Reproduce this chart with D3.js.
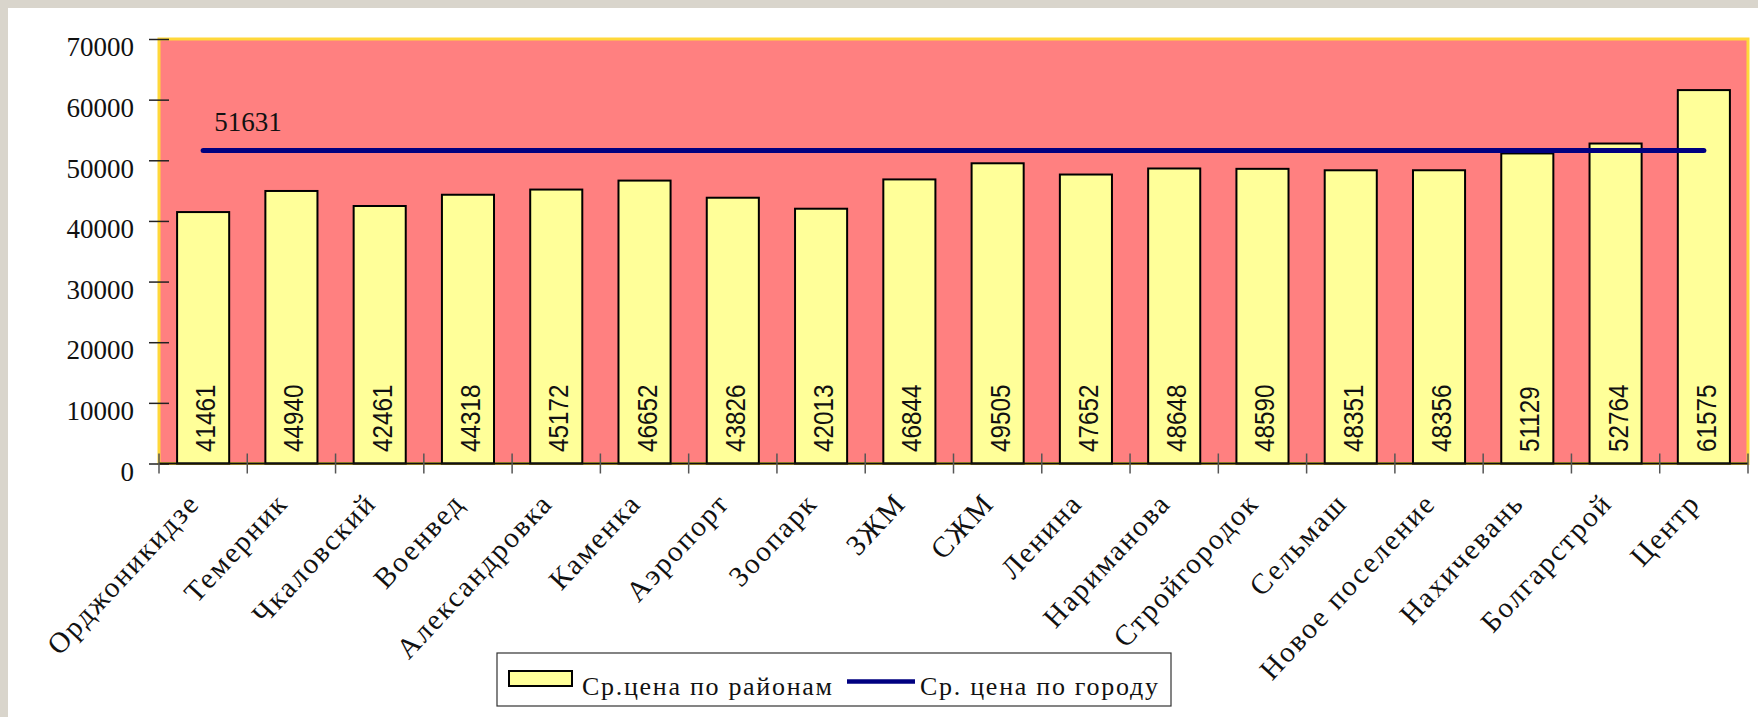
<!DOCTYPE html>
<html>
<head>
<meta charset="utf-8">
<script src="https://cdn.jsdelivr.net/npm/d3@7"></script>
<style>
  body { margin: 0; background: #d9d5cc; }
  svg { display: block; }
</style>
</head>
<body>
<svg id="chart"></svg>
<script>
// Chart data
const districts = ['Орджоникидзе', 'Темерник', 'Чкаловский', 'Военвед', 'Александровка', 'Каменка',
  'Аэропорт', 'Зоопарк', 'ЗЖМ', 'СЖМ', 'Ленина', 'Нариманова', 'Стройгородок', 'Сельмаш',
  'Новое поселение', 'Нахичевань', 'Болгарстрой', 'Центр'];
const districtPrices = [41461, 44940, 42461, 44318, 45172, 46652, 43826, 42013, 46844, 49505,
  47652, 48648, 48590, 48351, 48356, 51129, 52764, 61575];
const cityPrice = 51631;
const cityPrices = districts.map(() => cityPrice);
const yTicks = [0, 10000, 20000, 30000, 40000, 50000, 60000, 70000];
const legendLabels = ['Ср.цена по районам', 'Ср. цена по городу'];

// Set up the chart dimensions
const width = 1758;
const height = 717;
const plot = { left: 159, right: 1748, top: 39, bottom: 463.5 };
const serif = "'Liberation Serif', 'Times New Roman', serif";
const sans = "'Liberation Sans', Arial, sans-serif";

const svg = d3.select('#chart')
  .attr('width', width)
  .attr('height', height);

// Page background and white panel
svg.append('rect')
  .attr('width', width)
  .attr('height', height)
  .attr('fill', '#d9d5cc');
svg.append('rect')
  .attr('x', 8)
  .attr('y', 8)
  .attr('width', width - 8)
  .attr('height', height - 8)
  .attr('fill', '#ffffff');

// Scales
const xScale = d3.scaleBand()
  .domain(districts)
  .range([plot.left, plot.right])
  .paddingInner(0.41)
  .paddingOuter(0.205);

const yScale = d3.scaleLinear()
  .domain([0, 70000])
  .range([plot.bottom, plot.top]);

const center = d => xScale(d) + xScale.bandwidth() / 2;

// Plot area
svg.append('rect')
  .attr('x', plot.left)
  .attr('y', plot.top)
  .attr('width', plot.right - plot.left)
  .attr('height', plot.bottom - plot.top)
  .attr('fill', '#ff8080')
  .attr('stroke', '#ffd83a')
  .attr('stroke-width', 3);

// Y axis
const yAxis = d3.axisLeft(yScale)
  .tickValues(yTicks)
  .tickSize(10)
  .tickPadding(15)
  .tickFormat(d3.format('d'));

const yAxisG = svg.append('g')
  .attr('transform', `translate(${plot.left}, 0)`)
  .attr('font-family', serif)
  .call(yAxis);
yAxisG.attr('font-family', serif).attr('font-size', 27);
yAxisG.select('.domain').remove();
yAxisG.selectAll('.tick line')
  .attr('x1', 10)
  .attr('stroke', '#222')
  .attr('stroke-width', 1.5);
yAxisG.selectAll('.tick text')
  .attr('dy', '0.62em')
  .attr('fill', '#111')
  .attr('font-family', serif)
  .style('font-family', serif)
  .style('font-size', '27px');

// Bars
svg.selectAll('.bar')
  .data(districts)
  .enter()
  .append('rect')
  .attr('class', 'bar')
  .attr('x', d => xScale(d))
  .attr('y', (d, i) => yScale(districtPrices[i]))
  .attr('width', xScale.bandwidth())
  .attr('height', (d, i) => yScale(0) - yScale(districtPrices[i]))
  .attr('fill', '#ffff99')
  .attr('stroke', '#000')
  .attr('stroke-width', 2);

// Bar value labels (rotated)
svg.selectAll('.bar-label')
  .data(districts)
  .enter()
  .append('text')
  .attr('class', 'bar-label')
  .attr('transform', d => `translate(${center(d) + 12}, ${yScale(0) - 11.5}) rotate(-90) scale(0.9, 1.05)`)
  .attr('fill', '#111')
  .style('font-family', sans)
  .style('font-size', '27px')
  .text((d, i) => districtPrices[i]);

// X axis line and boundary ticks
svg.append('line')
  .attr('x1', plot.left)
  .attr('x2', plot.right)
  .attr('y1', yScale(0))
  .attr('y2', yScale(0))
  .attr('stroke', '#111')
  .attr('stroke-width', 2);

svg.selectAll('.x-tick')
  .data(d3.range(districts.length + 1))
  .enter()
  .append('line')
  .attr('class', 'x-tick')
  .attr('x1', i => plot.left + i * xScale.step())
  .attr('x2', i => plot.left + i * xScale.step())
  .attr('y1', yScale(0) - 10)
  .attr('y2', yScale(0) + 10)
  .attr('stroke', '#555')
  .attr('stroke-width', 1.5);

// X axis labels
const xAxis = d3.axisBottom(xScale).tickSize(0);
const xAxisG = svg.append('g')
  .attr('transform', `translate(0, ${yScale(0)})`)
  .call(xAxis);
xAxisG.select('.domain').remove();
xAxisG.selectAll('.tick text')
  .attr('y', 0)
  .attr('dy', 0)
  .attr('text-anchor', 'end')
  .attr('transform', 'translate(-2, 41) rotate(-47)')
  .attr('fill', '#111')
  .style('font-family', serif)
  .style('font-size', '29px')
  .style('letter-spacing', '2px');

// City average line
const line = d3.line()
  .x(d => center(d))
  .y((d, i) => yScale(cityPrices[i]));

svg.append('path')
  .datum(districts)
  .attr('d', line)
  .attr('fill', 'none')
  .attr('stroke', '#000080')
  .attr('stroke-width', 5)
  .attr('stroke-linecap', 'round');

svg.append('text')
  .attr('x', center(districts[0]) + 11)
  .attr('y', yScale(cityPrices[0]) - 19)
  .attr('fill', '#111')
  .style('font-family', serif)
  .style('font-size', '27px')
  .text(cityPrice);

// Legend
const legend = svg.append('g');
legend.append('rect')
  .attr('x', 497)
  .attr('y', 653)
  .attr('width', 674)
  .attr('height', 53)
  .attr('fill', '#fff')
  .attr('stroke', '#333')
  .attr('stroke-width', 1.2);
legend.append('rect')
  .attr('x', 509)
  .attr('y', 671)
  .attr('width', 63)
  .attr('height', 15)
  .attr('fill', '#ffff99')
  .attr('stroke', '#000')
  .attr('stroke-width', 2);
legend.append('text')
  .attr('x', 582)
  .attr('y', 695)
  .attr('fill', '#111')
  .attr('textLength', 250)
  .attr('lengthAdjust', 'spacing')
  .style('font-family', serif)
  .style('font-size', '26px')
  .text(legendLabels[0]);
legend.append('line')
  .attr('x1', 847)
  .attr('x2', 915)
  .attr('y1', 681.5)
  .attr('y2', 681.5)
  .attr('stroke', '#000080')
  .attr('stroke-width', 4.5);
legend.append('text')
  .attr('x', 920)
  .attr('y', 695)
  .attr('fill', '#111')
  .attr('textLength', 238)
  .attr('lengthAdjust', 'spacing')
  .style('font-family', serif)
  .style('font-size', '26px')
  .text(legendLabels[1]);
</script>
</body>
</html>
